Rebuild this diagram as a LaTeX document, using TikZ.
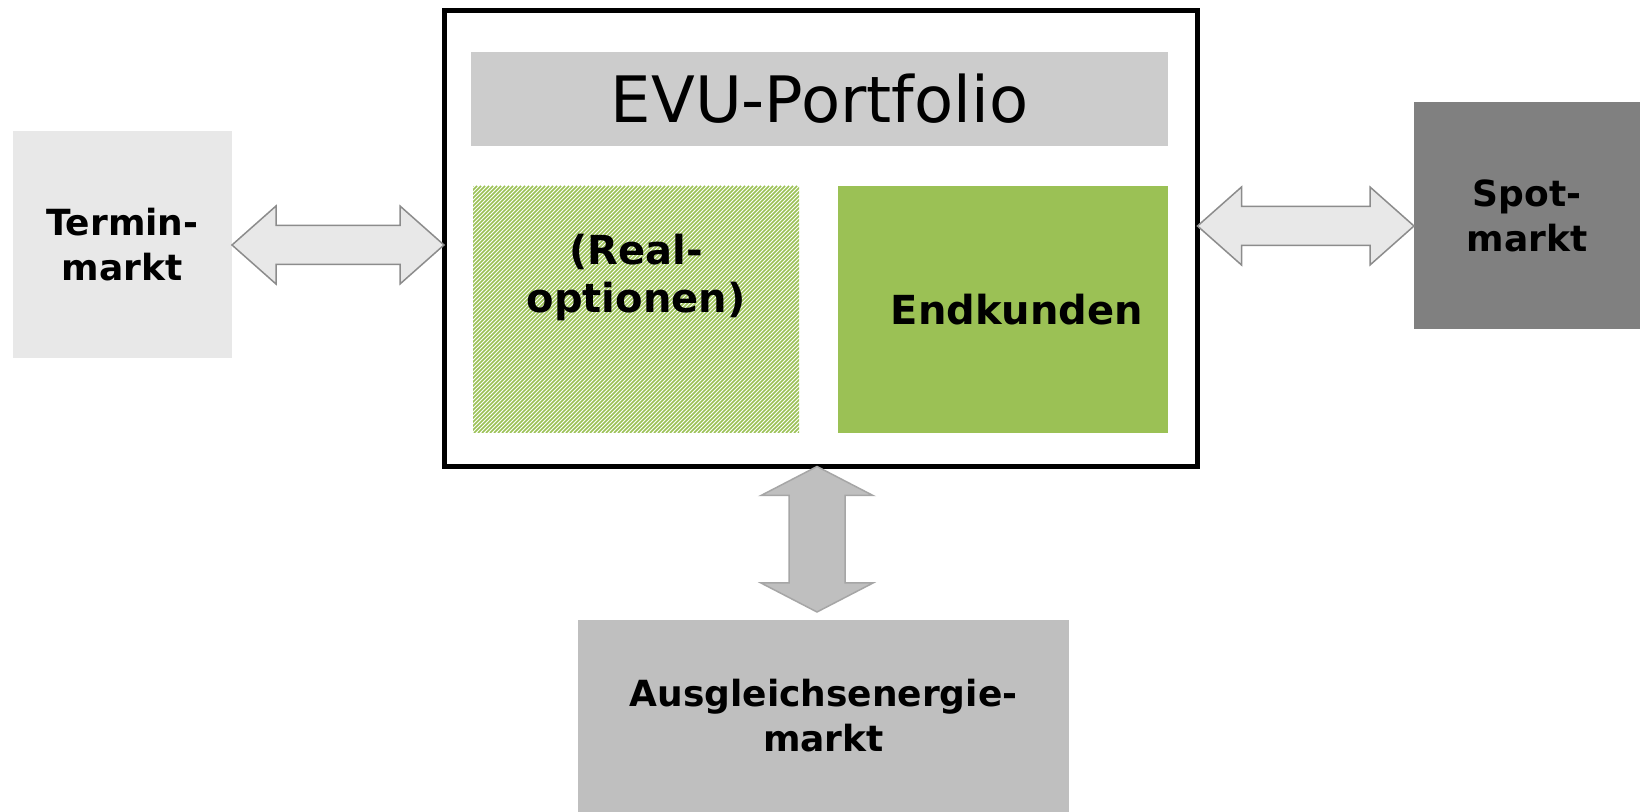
\documentclass[tikz,border=0pt]{standalone}
\usepackage{fontspec}
\setmainfont{DejaVu Sans}
\usetikzlibrary{calc}

\definecolor{termingray}{HTML}{E8E8E8}
\definecolor{spotgray}{HTML}{808080}
\definecolor{ausglgray}{HTML}{BFBFBF}
\definecolor{titlegray}{HTML}{CCCCCC}
\definecolor{kundengreen}{HTML}{9BC155}
\definecolor{arrowline}{HTML}{8C8C8C}
\definecolor{varrowline}{HTML}{A6A6A6}

\tikzset{
  market/.style={rectangle, inner sep=0pt, outer sep=0pt, align=center,
    font=\bfseries\fontsize{18}{22.5}\selectfont},
  innerbox/.style={rectangle, inner sep=0pt, outer sep=0pt, align=center,
    font=\bfseries\fontsize{20}{24}\selectfont},
  hatchline/.style={kundengreen, line width=0.75pt},
  harrow/.style={fill=termingray, draw=arrowline, line width=0.75pt,
    to path={let \p1=(\tikztostart), \p2=(\tikztotarget) in
      (\p1) -- (\x1+22pt,\y1+19.5pt) -- (\x1+22pt,\y1+9.75pt) -- (\x2-22pt,\y1+9.75pt)
      -- (\x2-22pt,\y1+19.5pt) -- (\x2,\y1) -- (\x2-22pt,\y1-19.5pt) -- (\x2-22pt,\y1-9.75pt)
      -- (\x1+22pt,\y1-9.75pt) -- (\x1+22pt,\y1-19.5pt) -- cycle}},
  varrow/.style={fill=ausglgray, draw=varrowline, line width=0.75pt,
    to path={let \p1=(\tikztostart), \p2=(\tikztotarget) in
      (\p1) -- (\x1+28pt,\y1-14.5pt) -- (\x1+14pt,\y1-14.5pt) -- (\x1+14pt,\y2+14.5pt)
      -- (\x1+28pt,\y2+14.5pt) -- (\x1,\y2) -- (\x1-28pt,\y2+14.5pt) -- (\x1-14pt,\y2+14.5pt)
      -- (\x1-14pt,\y1-14.5pt) -- (\x1-28pt,\y1-14.5pt) -- cycle}},
}

\begin{document}
\begin{tikzpicture}[x=0.5pt,y=-0.5pt]
	\useasboundingbox (0,0) rectangle (1640,812);
	\fill[white] (0,0) rectangle (1640,812);
	
	% maerkte
	\node[market, fill=termingray, minimum width=109.75pt, minimum height=113.5pt] (termin) at (122.25,244.5) {Termin-\\markt};
	\node[market, fill=spotgray, minimum width=113pt, minimum height=113.5pt] (spot) at (1527,216) {Spot-\\markt};
	\node[market, fill=ausglgray, minimum width=245.5pt, minimum height=96pt] (ausgl) at (823.5,716) {Ausgleichsenergie-\\markt};
	
	% portfolio
	\node[rectangle, draw, line width=2.5pt, inner sep=0pt, outer sep=0pt, minimum width=376.75pt, minimum height=228pt] (evu) at (820.75,238.5) {};
	\node[rectangle, fill=titlegray, inner sep=0pt, minimum width=348.5pt, minimum height=47pt, font=\fontsize{32}{38}\selectfont] (title) at (819.5,99) {EVU-Portfolio};
	\node[innerbox, minimum width=163pt, minimum height=123.5pt] (real) at (636,309.5) {};
	\begin{scope}
		\clip (real.south west) rectangle (real.north east);
		\foreach \i in {0,...,144}
			\draw[hatchline] ({226+4*\i},433) -- ++(247,-247);
	\end{scope}
	\node[innerbox] (realtxt) at ([yshift=16pt]real.center) {(Real-\\optionen)};
	\node[innerbox, fill=kundengreen, minimum width=165pt, minimum height=123.5pt] (endk) at (1003,309.5) {\hspace{14pt}Endkunden};
	
	% pfeile
	\coordinate (lrow) at (0,245);
	\coordinate (rrow) at (0,226);
	\coordinate (vcol) at (817,0);
	\coordinate (agtop) at ([yshift=4pt]ausgl.north);
	\draw[harrow] (termin.east |- lrow) to (evu.west |- lrow);
	\draw[harrow] (evu.east |- rrow) to (spot.west |- rrow);
	\draw[varrow] (evu.south -| vcol) to (agtop -| vcol);
\end{tikzpicture}
\end{document}
